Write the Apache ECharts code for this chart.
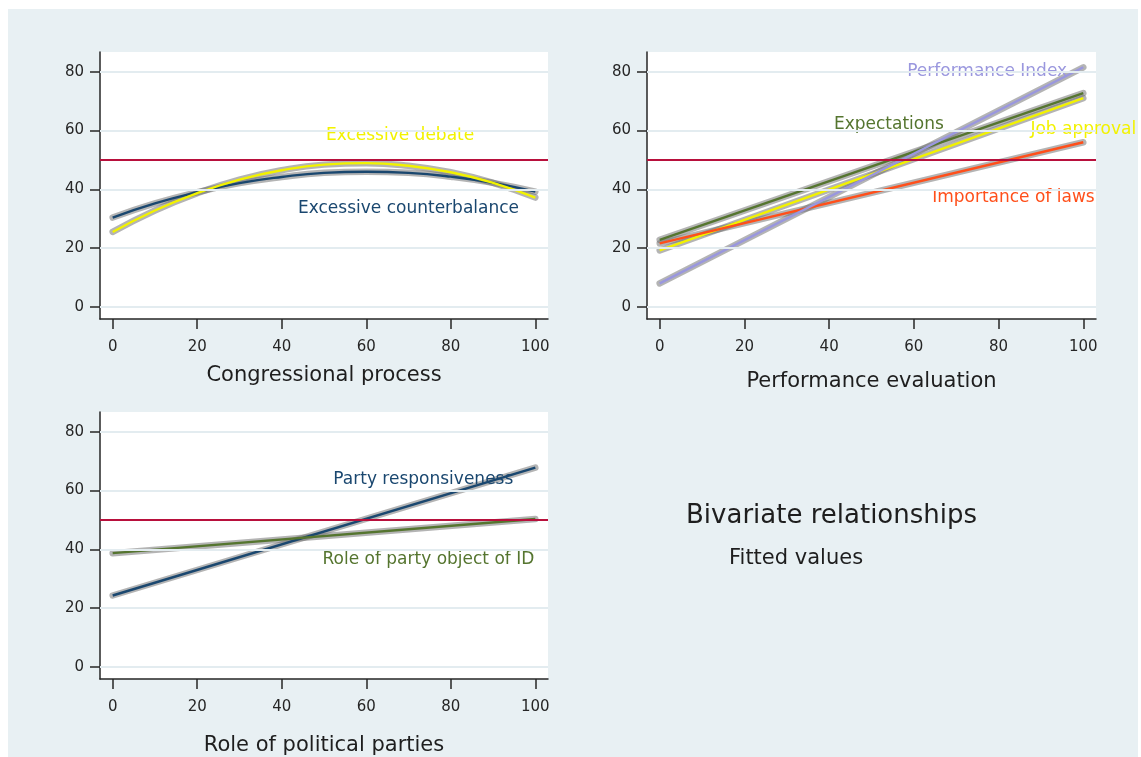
<!DOCTYPE html>
<html>
<head>
<meta charset="utf-8">
<title>Bivariate relationships</title>
<script src="https://cdn.jsdelivr.net/npm/echarts@6/dist/echarts.min.js"></script>
<style>
  html, body { margin: 0; padding: 0; background: #ffffff; }
  #panel { position: absolute; left: 8px; top: 9px; width: 1130px; height: 748px; background: #e8f0f3; }
  #chart { position: absolute; left: 0; top: 0; width: 1141px; height: 757px; }
</style>
</head>
<body>
<div id="panel"></div>
<div id="chart"></div>
<script>
// Tick positions shared by all three panels
const xTicks = [0, 20, 40, 60, 80, 100];
const yTicks = [0, 20, 40, 60, 80];
const referenceLevel = 50;

// Congressional process: quadratic fitted values
const processX = [0, 10, 20, 30, 40, 50, 60, 70, 80, 90, 100];
const excessiveCounterbalance = [30.4, 35.2, 39.0, 42.1, 44.2, 45.6, 46.0, 45.6, 44.3, 42.2, 39.2];
const excessiveDebate = [25.5, 32.8, 38.7, 43.3, 46.5, 48.4, 48.9, 48.0, 45.8, 42.2, 37.2];

// Performance evaluation: linear fitted values
const evaluationX = [0, 100];
const jobApproval = [19.2, 71.0];
const importanceOfLaws = [21.6, 56.0];
const expectations = [22.8, 72.7];
const performanceIndex = [8.0, 81.5];

// Role of political parties: linear fitted values
const partiesX = [0, 100];
const partyResponsiveness = [24.3, 67.8];
const rolePartyObjectOfId = [38.7, 50.3];

const FONT = '"DejaVu Sans", Verdana, sans-serif';
const INK = '#262626';
const NAVY = '#1a476f';
const YELLOW = '#f2f200';
const GREEN = '#55752f';
const ORANGE = '#ff4f1a';
const LAVENDER = '#9a97de';

const grids = [
  { left: 100, top: 52, width: 448, height: 267 },
  { left: 647, top: 52, width: 449, height: 267 },
  { left: 100, top: 412, width: 448, height: 267 }
];
const axisTitles = [
  { name: 'Congressional process', gap: 46 },
  { name: 'Performance evaluation', gap: 52 },
  { name: 'Role of political parties', gap: 56 }
];

// Fitted curves per panel; "at" is where the curve's caption sits, in data units
const curves = [
  { grid: 0, name: 'Excessive counterbalance', xs: processX, ys: excessiveCounterbalance, color: NAVY, smooth: true, at: [70, 33.3] },
  { grid: 0, name: 'Excessive debate', xs: processX, ys: excessiveDebate, color: YELLOW, smooth: true, at: [68, 58.2] },
  { grid: 1, name: 'Job approval', xs: evaluationX, ys: jobApproval, color: YELLOW, at: [100, 60.2] },
  { grid: 1, name: 'Importance of laws', xs: evaluationX, ys: importanceOfLaws, color: ORANGE, at: [83.5, 37.1] },
  { grid: 1, name: 'Expectations', xs: evaluationX, ys: expectations, color: GREEN, at: [54.1, 61.9] },
  { grid: 1, name: 'Performance Index', xs: evaluationX, ys: performanceIndex, color: LAVENDER, at: [77.3, 80.0] },
  { grid: 2, name: 'Party responsiveness', xs: partiesX, ys: partyResponsiveness, color: NAVY, at: [73.5, 63.6] },
  { grid: 2, name: 'Role of party object of ID', xs: partiesX, ys: rolePartyObjectOfId, color: GREEN, at: [74.7, 36.6] }
];

const axisLineStyle = { color: INK, width: 1.5 };

const xAxes = grids.map((g, i) => ({
  type: 'value', gridIndex: i, min: -3, max: 103,
  name: axisTitles[i].name, nameLocation: 'middle', nameGap: axisTitles[i].gap,
  nameTextStyle: { fontSize: 21, color: '#1e1e1e', fontFamily: FONT },
  axisLine: { show: true, onZero: false, lineStyle: axisLineStyle },
  axisTick: { show: true, customValues: xTicks, length: 10, lineStyle: axisLineStyle },
  axisLabel: { show: true, customValues: xTicks, margin: 21, fontSize: 15, color: INK, fontFamily: FONT },
  splitLine: { show: false }
}));

const yAxes = grids.map((g, i) => ({
  type: 'value', gridIndex: i, min: -4.1, max: 86.7,
  axisLine: { show: true, onZero: false, lineStyle: axisLineStyle },
  axisTick: { show: true, customValues: yTicks, length: 10, lineStyle: axisLineStyle },
  axisLabel: { show: true, customValues: yTicks, margin: 16, fontSize: 15, color: INK, fontFamily: FONT },
  splitLine: { show: false }
}));

const series = [];

// Horizontal grid lines and the reference line at 50, beneath the curves
grids.forEach((g, i) => {
  series.push({
    type: 'line', xAxisIndex: i, yAxisIndex: i, data: [], z: 1, silent: true,
    markLine: {
      silent: true, symbol: ['none', 'none'], label: { show: false },
      data: yTicks.map(v => ({ yAxis: v, lineStyle: { color: '#e3ecf0', width: 2, type: 'solid' } }))
        .concat([{ yAxis: referenceLevel, lineStyle: { color: '#b8103c', width: 1.8, type: 'solid' } }])
    }
  });
});

curves.forEach(c => {
  const pts = c.xs.map((x, k) => [x, c.ys[k]]);
  // confidence band shading
  series.push({
    type: 'line', xAxisIndex: c.grid, yAxisIndex: c.grid, data: pts, smooth: !!c.smooth,
    showSymbol: false, silent: true, z: 2,
    lineStyle: { color: 'rgba(105,105,105,0.5)', width: 6.5, cap: 'round' }
  });
  // fitted line
  series.push({
    type: 'line', name: c.name, xAxisIndex: c.grid, yAxisIndex: c.grid, data: pts, smooth: !!c.smooth,
    showSymbol: false, silent: true, z: 3,
    lineStyle: { color: c.color, width: 2.4 }
  });
  // caption
  series.push({
    type: 'scatter', xAxisIndex: c.grid, yAxisIndex: c.grid, symbolSize: 0, clip: false, silent: true, z: 4,
    data: [{ value: c.at }],
    label: {
      show: true, position: 'inside', formatter: c.name, color: c.color,
      textBorderWidth: 0, textBorderColor: 'transparent', opacity: 1,
      fontSize: 17, fontFamily: FONT
    }
  });
});

const chart = echarts.init(document.getElementById('chart'), null, { renderer: 'canvas' });
chart.setOption({
  animation: false,
  title: [
    { text: 'Bivariate relationships', left: 686, top: 503, padding: 0,
      textStyle: { fontSize: 26, fontWeight: 'normal', color: '#1e1e1e', fontFamily: FONT } },
    { text: 'Fitted values', left: 729, top: 548, padding: 0,
      textStyle: { fontSize: 21, fontWeight: 'normal', color: '#1e1e1e', fontFamily: FONT } }
  ],
  grid: grids.map(g => Object.assign({ show: true, backgroundColor: '#ffffff', borderWidth: 0, containLabel: false }, g)),
  xAxis: xAxes,
  yAxis: yAxes,
  series: series
});
</script>
</body>
</html>
